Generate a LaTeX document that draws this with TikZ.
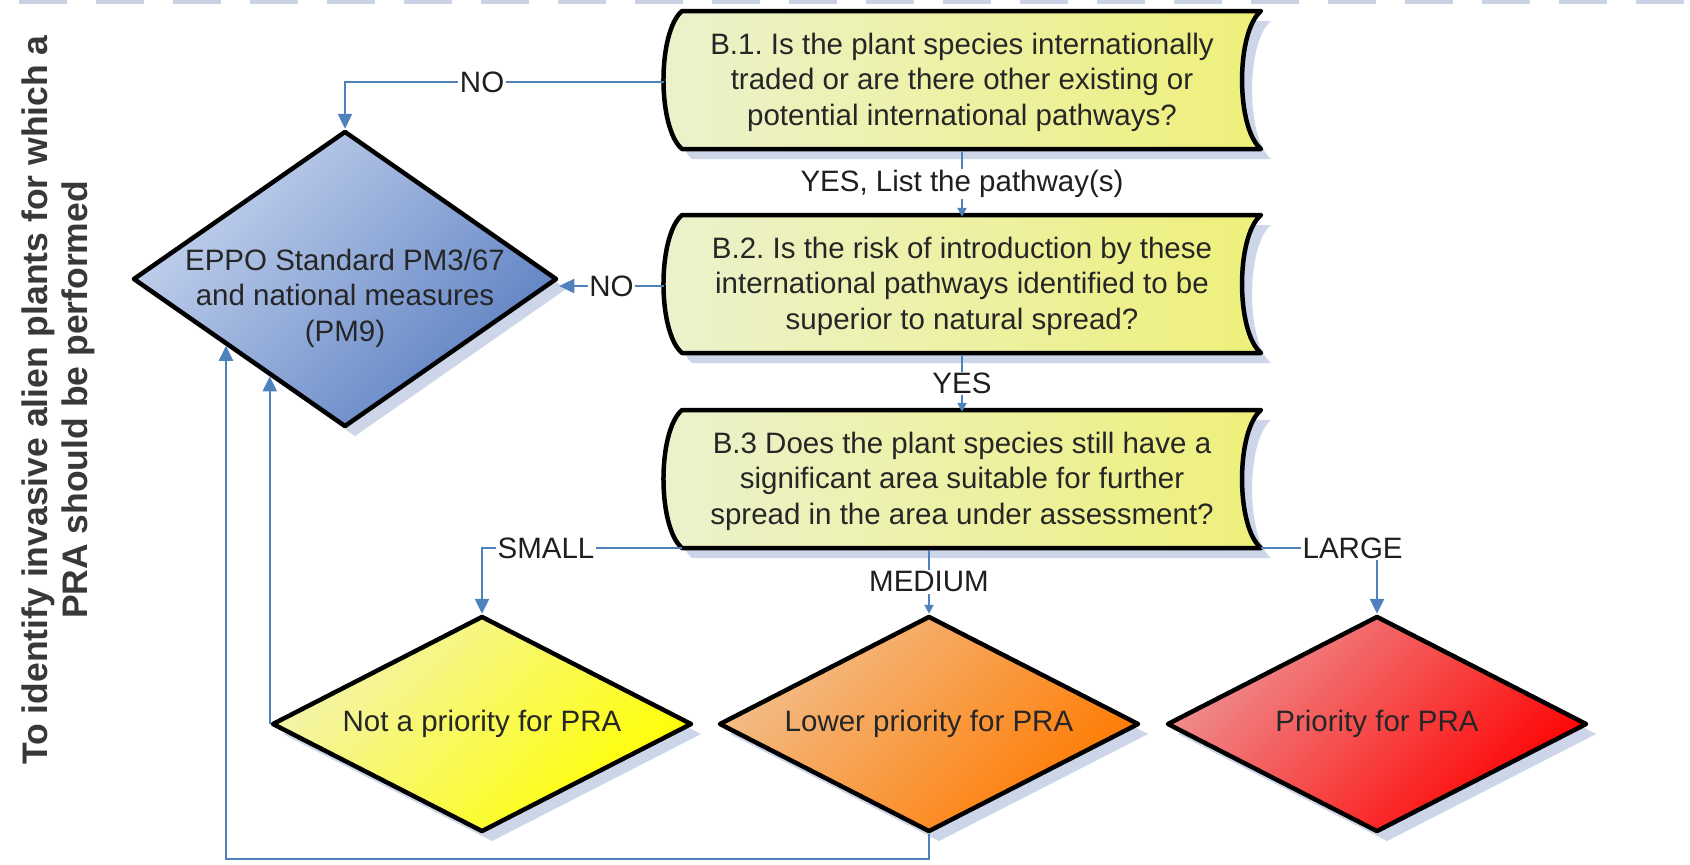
\documentclass[tikz,border=0pt]{standalone}
\usepackage{fontspec}
\setmainfont{Liberation Sans}
\usetikzlibrary{shapes.geometric,arrows.meta,shadows,calc}
\frenchspacing
\definecolor{conncol}{HTML}{4F81BD}
\definecolor{shadowcol}{HTML}{CCD6E8}
\definecolor{dashcol}{HTML}{CAD3E3}
\definecolor{qleft}{HTML}{ECF1CE}
\definecolor{qright}{HTML}{EEF07A}
\definecolor{eppolight}{HTML}{C6D4EE}
\definecolor{eppodark}{HTML}{5C80C2}
\definecolor{yellight}{HTML}{F3F3B0}
\definecolor{yeldark}{HTML}{FFFF00}
\definecolor{oralight}{HTML}{F2BE8A}
\definecolor{oradark}{HTML}{FF7A00}
\definecolor{redlight}{HTML}{EE9090}
\definecolor{reddark}{HTML}{FF0000}
\tikzset{
  qshapestyle/.style={draw=black, line width=4.5pt, line join=round,
    left color=qleft, right color=qright,
    drop shadow={shadow xshift=10pt, shadow yshift=-10pt, fill=shadowcol, opacity=1}},
  qframe/.style={minimum width=596pt, minimum height=138pt, inner sep=0pt, align=center,
    font=\fontsize{29.5}{35.5}\selectfont, text=black!85},
  diam/.style={diamond, draw=black, line width=4.5pt, line join=round, inner sep=0pt,
    minimum width=420pt, minimum height=216pt,
    drop shadow={shadow xshift=10pt, shadow yshift=-10pt, fill=shadowcol, opacity=1}},
  dtext/.style={align=center, inner sep=0pt, font=\fontsize{29.5}{35.5}\selectfont, text=black!85},
  conn/.style={draw=conncol, line width=2.5pt, -{Triangle[length=15pt,width=14pt]}},
  connsmall/.style={draw=conncol, line width=2.5pt, -{Triangle[length=9pt,width=9pt]}},
  lbl/.style={fill=white, inner sep=1.5pt, text=black!88, font=\fontsize{29.5}{35}\selectfont},
}
\newcommand{\qshape}[3]{%
  \draw[qshapestyle] (#2-280,#3-69) -- (#2+299,#3-69)
    .. controls (#2+273.7,#3-48) and (#2+273.7,#3+48) .. (#2+299,#3+69)
    -- (#2-280,#3+69)
    .. controls (#2-304.7,#3+48) and (#2-304.7,#3-48) .. (#2-280,#3-69) -- cycle;
  \coordinate (#1-bl) at (#2-280,#3+69);
  \coordinate (#1-br) at (#2+299,#3+69);
}
\begin{document}
\begin{tikzpicture}[x=1pt,y=-1pt]
\useasboundingbox (0,0) rectangle (1690,865);
\fill[white] (0,0) rectangle (1690,865);
% top dashed rule
\draw[dashcol, line width=5pt, dash pattern=on 48pt off 29pt] (19,1.5) -- (1690,1.5);
% side title
\node[rotate=90, align=center, inner sep=0pt, text=black!78,
  font=\bfseries\fontsize{35.5}{40}\selectfont] (title) at (58,400)
  {To identify invasive alien plants for which a\\PRA should be performed};
% question boxes
\qshape{b1}{962}{80}
\qshape{b2}{962}{284}
\qshape{b3}{962}{479}
\node[qframe] (b1) at (962,82) {B.1. Is the plant species internationally\\traded or are there other existing or\\potential international pathways?};
\node[qframe] (b2) at (962,286) {B.2. Is the risk of introduction by these\\international pathways identified to be\\superior to natural spread?};
\node[qframe] (b3) at (962,481) {B.3 Does the plant species still have a\\significant area suitable for further\\spread in the area under assessment?};
% diamonds
\node[diam, minimum width=424pt, minimum height=296pt,
  top color=eppolight, bottom color=eppodark, shading angle=45] (epp) at (345,279) {};
\node[dtext] (epp-t) at (345,298) {EPPO Standard PM3/67\\and national measures\\(PM9)};
\node[diam, top color=yellight, bottom color=yeldark, shading angle=45] (nap) at (482,724) {};
\node[dtext] (nap-t) at (nap) {Not a priority for PRA};
\node[diam, top color=oralight, bottom color=oradark, shading angle=45] (lop) at (929,724) {};
\node[dtext] (lop-t) at (lop) {Lower priority for PRA};
\node[diam, top color=redlight, bottom color=reddark, shading angle=45] (pri) at (1377,724) {};
\node[dtext] (pri-t) at (pri) {Priority for PRA};
\coordinate (retx) at (226,859);
% connectors
\draw[conn] (b1.west) -- node[lbl, pos=0.57]{NO} (b1.west -| epp.north) -- (epp.north);
\draw[connsmall] (b1.south) -- node[lbl]{YES, List the pathway(s)} (b2.north);
\draw[conn] (b2.west) -- node[lbl, pos=0.5]{NO} (b2.west -| epp.east);
\draw[connsmall] (b2.south) -- node[lbl]{YES} (b3.north);
\draw[conn] (b3-bl) -- node[lbl, pos=0.68]{SMALL} (b3-bl -| nap.north) -- (nap.north);
\draw[connsmall] (b3.south -| lop.north) -- node[lbl]{MEDIUM} (lop.north);
\draw[conn] (b3-br) -- node[lbl, pos=0.79]{LARGE} (b3-br -| pri.north) -- (pri.north);
\draw[conn] let \p1=(nap.west), \p2=(epp.west), \p3=(epp.south),
  \n1={\y2+(\x1-\x2)/(\x3-\x2)*(\y3-\y2)} in
  (nap.west) -- (\x1,\n1);
\draw[conn] let \p1=(retx), \p2=(epp.west), \p3=(epp.south),
  \n1={\y2+(\x1-\x2)/(\x3-\x2)*(\y3-\y2)} in
  (lop.south) -- (lop.south |- retx) -- (retx) -- (\x1,\n1);
\end{tikzpicture}
\end{document}
